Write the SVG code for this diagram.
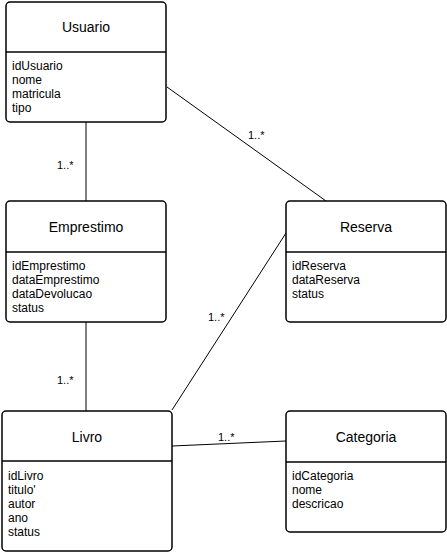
<svg xmlns="http://www.w3.org/2000/svg" width="447" height="552" viewBox="0 0 447 552">
<style>
.box{fill:#fff;stroke:#000;stroke-width:1.5}
.div{stroke:#000;stroke-width:1.5}
.title{font-family:"Liberation Sans",Arial,sans-serif;font-size:14px;text-anchor:middle;fill:#000}
.attr{font-family:"Liberation Sans",Arial,sans-serif;font-size:12px;fill:#000}
.lbl{font-family:"Liberation Sans",Arial,sans-serif;font-size:11px;fill:#000}
.conn{stroke:#000;stroke-width:1;fill:none}
</style>
<rect width="447" height="552" fill="#fff"/>
<g id="connectors">
<line class="conn" x1="86" y1="122" x2="86" y2="201"/>
<line class="conn" x1="167" y1="87" x2="326" y2="201"/>
<line class="conn" x1="86" y1="322" x2="86" y2="411"/>
<line class="conn" x1="172" y1="410" x2="286" y2="233"/>
<line class="conn" x1="172" y1="446" x2="286" y2="441"/>
<text class="lbl" x="57" y="169">1..*</text>
<text class="lbl" x="248" y="139">1..*</text>
<text class="lbl" x="57" y="384">1..*</text>
<text class="lbl" x="208" y="321">1..*</text>
<text class="lbl" x="218" y="441">1..*</text>
</g>
<g id="usuario">
<rect class="box" x="6" y="2" width="160" height="120" rx="4"/>
<line class="div" x1="6" y1="52" x2="166" y2="52"/>
<text class="title" x="86" y="32">Usuario</text>
<text class="attr" x="12" y="70">idUsuario</text>
<text class="attr" x="12" y="84">nome</text>
<text class="attr" x="12" y="98">matricula</text>
<text class="attr" x="12" y="112">tipo</text>
</g>
<g id="emprestimo">
<rect class="box" x="6" y="201" width="160" height="121" rx="4"/>
<line class="div" x1="6" y1="252" x2="166" y2="252"/>
<text class="title" x="86" y="232">Emprestimo</text>
<text class="attr" x="12" y="270">idEmprestimo</text>
<text class="attr" x="12" y="284">dataEmprestimo</text>
<text class="attr" x="12" y="298">dataDevolucao</text>
<text class="attr" x="12" y="312">status</text>
</g>
<g id="reserva">
<rect class="box" x="286" y="201" width="160" height="121" rx="4"/>
<line class="div" x1="286" y1="252" x2="446" y2="252"/>
<text class="title" x="366" y="232">Reserva</text>
<text class="attr" x="292" y="270">idReserva</text>
<text class="attr" x="292" y="284">dataReserva</text>
<text class="attr" x="292" y="298">status</text>
</g>
<g id="livro">
<rect class="box" x="2" y="411" width="170" height="140" rx="4"/>
<line class="div" x1="2" y1="461" x2="172" y2="461"/>
<text class="title" x="87" y="442">Livro</text>
<text class="attr" x="8" y="480">idLivro</text>
<text class="attr" x="8" y="494">titulo'</text>
<text class="attr" x="8" y="508">autor</text>
<text class="attr" x="8" y="522">ano</text>
<text class="attr" x="8" y="536">status</text>
</g>
<g id="categoria">
<rect class="box" x="286" y="411" width="160" height="121" rx="4"/>
<line class="div" x1="286" y1="462" x2="446" y2="462"/>
<text class="title" x="366" y="442">Categoria</text>
<text class="attr" x="292" y="480">idCategoria</text>
<text class="attr" x="292" y="494">nome</text>
<text class="attr" x="292" y="508">descricao</text>
</g>
</svg>
